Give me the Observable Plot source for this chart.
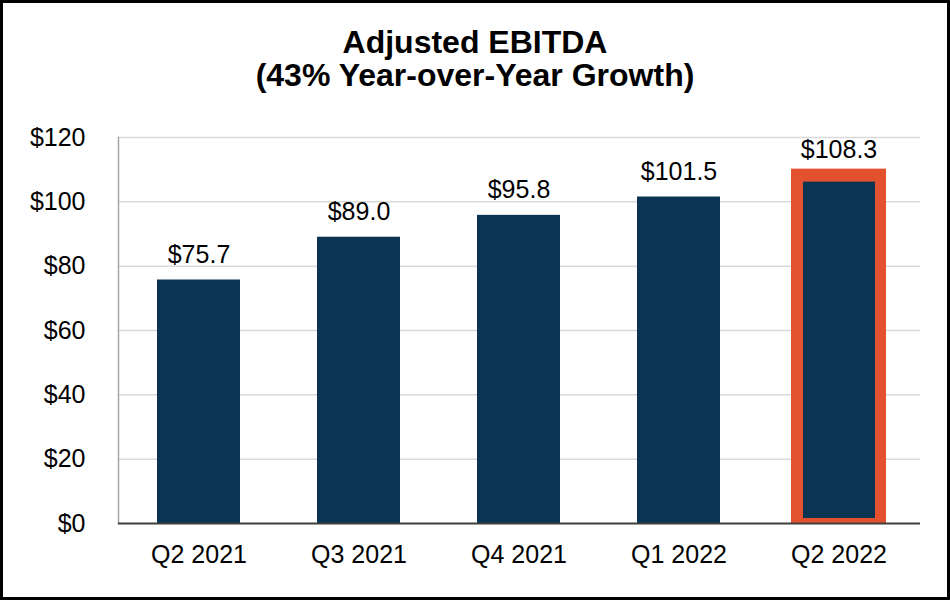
<!DOCTYPE html>
<html>
<head>
<meta charset="utf-8">
<script src="https://cdn.jsdelivr.net/npm/d3@7"></script>
<script src="https://cdn.jsdelivr.net/npm/@observablehq/plot@0.6"></script>
<style>
  html, body { margin: 0; padding: 0; background: #fff; }
  #frame {
    width: 950px; height: 600px; box-sizing: border-box;
    border: 3px solid #000; background: #fff; overflow: hidden;
    font-family: "Liberation Sans", Arial, sans-serif;
  }
  #title {
    padding-top: 23px; height: 65px;
    text-align: center; font-weight: bold; font-size: 32px; line-height: 33px; color: #000;
  }
</style>
</head>
<body>
<div id="frame">
  <div id="title">Adjusted EBITDA<br>(43% Year-over-Year Growth)</div>
  <div id="chart"></div>
</div>
<script>
const quarters = ["Q2 2021", "Q3 2021", "Q4 2021", "Q1 2022", "Q2 2022"];
const ebitda = [75.7, 89.0, 95.8, 101.5, 108.3];
const yTicks = [0, 20, 40, 60, 80, 100, 120];
const highlighted = ["Q2 2022"];

const navy = "#0B3452";
const orange = "#E3512F";

const data = quarters.map((q, i) => ({ quarter: q, value: ebitda[i], label: "$" + ebitda[i].toFixed(1) }));
const hi = data.filter(d => highlighted.includes(d.quarter));
const rest = data.filter(d => !highlighted.includes(d.quarter));

const chart = Plot.plot({
  width: 944,
  height: 506,
  marginLeft: 115,
  marginRight: 27,
  marginTop: 46,
  marginBottom: 74,
  style: { fontSize: "25px", fontFamily: "'Liberation Sans', Arial, sans-serif", color: "#000", background: "#fff" },
  x: { domain: quarters, paddingInner: 0.48, paddingOuter: 0.24, label: null },
  y: { domain: [0, 120], label: null },
  marks: [
    Plot.gridY(yTicks, { stroke: "#D9D9D9", strokeOpacity: 1, strokeWidth: 1.5 }),
    Plot.axisY(yTicks, { tickSize: 0, tickPadding: 33, tickFormat: d => "$" + d, label: null, fontSize: 25 }),
    Plot.axisX({ tickSize: 0, tickPadding: 22, label: null, fontSize: 25 }),
    Plot.frame({ anchor: "left", stroke: "#A6A6A6", strokeWidth: 1.5 }),
    Plot.barY(hi, { x: "quarter", y: "value", fill: orange, insetTop: -6, insetLeft: -6, insetRight: -6 }),
    Plot.barY(rest, { x: "quarter", y: "value", fill: navy }),
    Plot.barY(hi, { x: "quarter", y: "value", fill: navy, insetTop: 7, insetLeft: 6, insetRight: 5, insetBottom: 5 }),
    Plot.ruleY([0], { stroke: "#404040", strokeWidth: 2 }),
    Plot.text(data, { x: "quarter", y: "value", text: "label", dy: -25, fontSize: 25, fill: "#000" })
  ]
});
document.getElementById("chart").appendChild(chart);
</script>
</body>
</html>
